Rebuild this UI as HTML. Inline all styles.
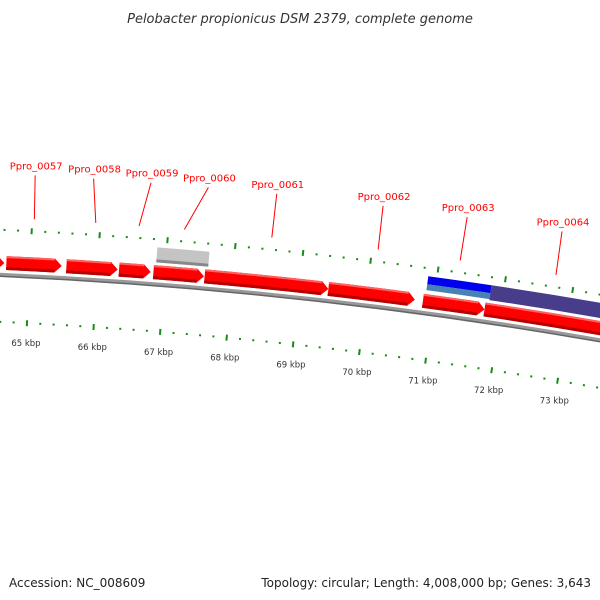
<!DOCTYPE html>
<html><head><meta charset="utf-8"><style>
html,body{margin:0;padding:0;background:#fff;}
svg{display:block;font-family:"DejaVu Sans","Liberation Sans",sans-serif;}
</style></head><body>
<svg id="map" width="600" height="600" viewBox="0 0 600 600">
<text x="300" y="23" text-anchor="middle" font-size="13" font-style="italic" fill="#333">Pelobacter propionicus DSM 2379, complete genome</text>
<g id="ticks"></g>
<g id="genes"></g>
<g id="labels"></g>
<text x="9" y="587" font-size="12" fill="#222">Accession: NC_008609</text>
<text x="591" y="587" font-size="12" fill="#222" text-anchor="end">Topology: circular; Length: 4,008,000 bp; Genes: 3,643</text>
</svg>
<script>
// data
const tickKbp = [64,65,66,67,68,69,70,71,72,73,74];
const tickLabels = ["64 kbp","65 kbp","66 kbp","67 kbp","68 kbp","69 kbp","70 kbp","71 kbp","72 kbp","73 kbp","74 kbp"];
const fwdStarts = [63830, 64650, 65540, 66320, 66830, 67590, 69430, 70840, 71760];
const fwdEnds   = [64620, 65470, 66300, 66790, 67580, 69430, 70720, 71760, 74500];
const featNames = ["gray-feature","blue-feature","lightblue-feature","purple-feature"];
const featStarts = [66860, 70870, 70870, 71810];
const featEnds   = [67630, 71810, 71810, 74500];
const labelNames = ["Ppro_0057","Ppro_0058","Ppro_0059","Ppro_0060","Ppro_0061","Ppro_0062","Ppro_0063","Ppro_0064"];
const labelAnchorBp = [65030, 65932, 66568, 67234, 68521, 70089, 71302, 72722];
const labelTextBp   = [65009, 65859, 66695, 67531, 68528, 70082, 71314, 72707];

const NS="http://www.w3.org/2000/svg";
const cx=-213, cy=5007, R=4737;
const th0=0.05119, k=0.014233/1000;
function ang(bp){return th0+(bp-65000)*k;}
function P(r,t){return [cx+r*Math.sin(t), cy-r*Math.cos(t)];}
function mk(tag,attrs,parent){const e=document.createElementNS(NS,tag);for(const a in attrs)e.setAttribute(a,attrs[a]);parent.appendChild(e);return e;}
const gT=document.getElementById('ticks'), gG=document.getElementById('genes'), gL=document.getElementById('labels');

function arcPath(r,a1,a2){const p1=P(r,a1),p2=P(r,a2);return `M${p1[0]},${p1[1]} A${r},${r} 0 0 1 ${p2[0]},${p2[1]}`;}
const bb1=mk('path',{d:arcPath(R,ang(60000),ang(76000)),stroke:'#999',"stroke-width":4,fill:'none'},gG);


const bb2=mk('path',{d:arcPath(R-1.5,ang(60000),ang(76000)),stroke:'#666',"stroke-width":1.5,fill:'none'},gG);



const rUp=R+45, rLo=4690, rLab=4670;
for(let kb=63000; kb<=75000; kb+=200){
  const t=ang(kb); const major=(kb%1000===0);
  const h=major?3:1;
  [rUp,rLo].forEach((r,i)=>{
    const a=P(r-h,t), b=P(r+h,t);
    const ln=mk('line',{x1:a[0],y1:a[1],x2:b[0],y2:b[1],stroke:'#1a8a1a',"stroke-width":2},gT);
    
    
  });
}
tickKbp.forEach((kb,i)=>{
  const p=P(rLab,ang(kb*1000));
  const tx=mk('text',{x:p[0],y:p[1]+3,"text-anchor":"middle","font-size":8.5,fill:'#333'},gT);
  tx.textContent=tickLabels[i];
  
  
});

function band(r1,r2,a1,a2,arrow){
  const head=arrow?7/((r1+r2)/2):0;
  const b=a2-head;
  const p1=P(r2,a1),p2=P(r2,b),p3=P(r1,b),p4=P(r1,a1);
  let d=`M${p1[0]},${p1[1]} A${r2},${r2} 0 0 1 ${p2[0]},${p2[1]} `;
  if(arrow){const tp=P((r1+r2)/2,a2);d+=`L${tp[0]},${tp[1]} `;}
  d+=`L${p3[0]},${p3[1]} A${r1},${r1} 0 0 0 ${p4[0]},${p4[1]} Z`;
  return d;
}
fwdStarts.forEach((s,i)=>{
  const a1=ang(s),a2=ang(fwdEnds[i]);
  const g=mk('path',{d:band(R+5,R+19,a1,a2,true),fill:'#ff0000'},gG);
  
  
  const sh=mk('path',{d:band(R+5,R+8,a1,a2-7/(R+12),false),fill:'#b80000'},gG);
  
  
  const hl=mk('path',{d:band(R+17,R+19,a1,a2-7/(R+12),false),fill:'#ff6060'},gG);
  
  
});
const featColors=['#c4c4c4','#0000ee','#4682b4','#483d8b'];
const featR1=[R+22,R+29,R+23,R+22], featR2=[R+37,R+37,R+29,R+37];
featStarts.forEach((s,i)=>{
  const f=mk('path',{d:band(featR1[i],featR2[i],ang(s),ang(featEnds[i]),false),fill:featColors[i]},gG);
  
  
});
const gs=mk('path',{d:band(R+22,R+25,ang(featStarts[0]),ang(featEnds[0]),false),fill:'#888'},gG);



labelNames.forEach((n,i)=>{
  const a=P(R+57,ang(labelAnchorBp[i]));
  const b=P(R+101,ang(labelTextBp[i]));
  const ln=mk('line',{x1:a[0],y1:a[1],x2:b[0],y2:b[1],stroke:'#ff0000',"stroke-width":1},gL);
  
  
  const tx=mk('text',{x:b[0]+1,y:b[1]-6,"text-anchor":"middle","font-size":10,fill:'#ff0000'},gL);
  tx.textContent=n;
  
  
});
</script>
</body></html>
